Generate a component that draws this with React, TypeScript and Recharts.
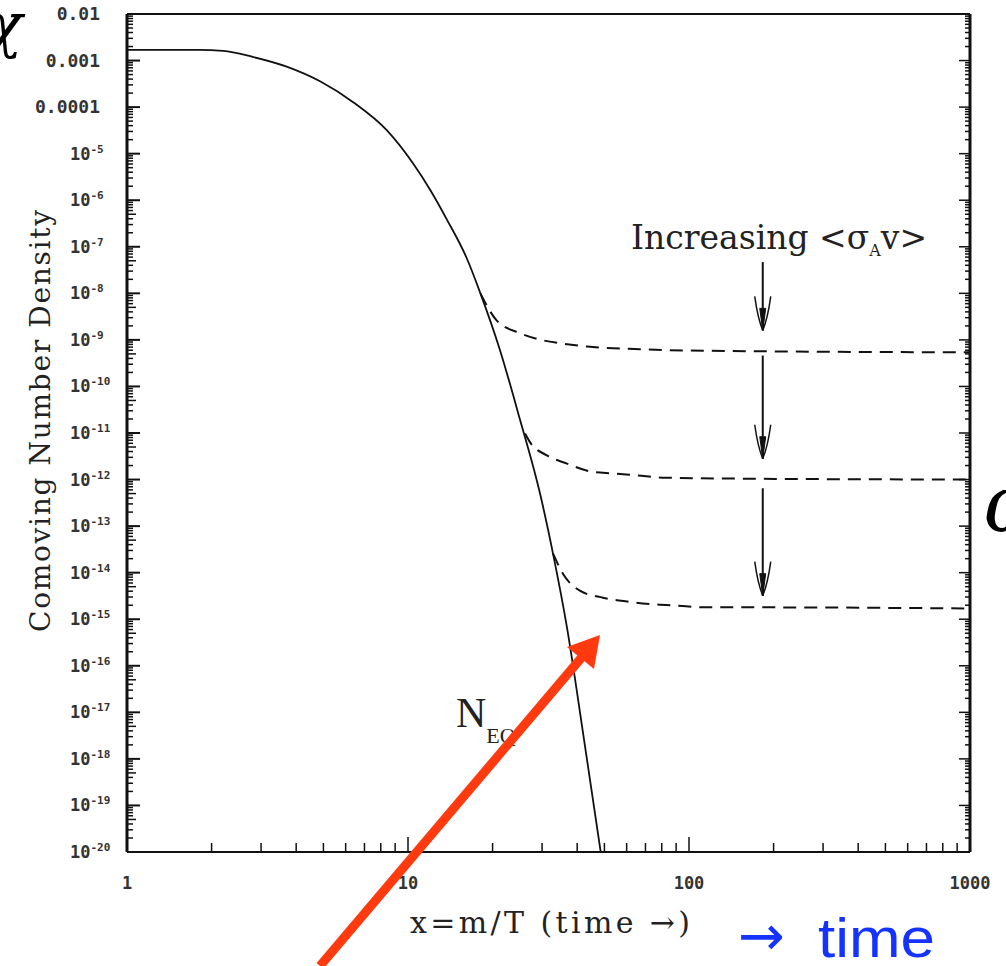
import React from "react";
import { LineChart, Line, XAxis, YAxis, ReferenceLine } from "recharts";

// equilibrium curve N_EQ (x = m/T, comoving number density)
const neqX = [1, 1.8, 2.2, 2.8, 3.7, 4.9, 6.4, 8.4, 10.4, 12, 13.8, 16.2, 18.1, 21.2, 25, 29.5, 32.8, 36.8, 42, 48.5];
const neqY = [1.7e-3, 1.7e-3, 1.62e-3, 1.2e-3, 7.4e-4, 3.5e-4, 1.26e-4, 3.2e-5, 6.3e-6, 1.66e-6, 3.7e-7, 5.6e-8, 1e-8, 6.3e-10, 2e-11, 5e-13, 2.6e-14, 6.6e-16, 3.5e-18, 1e-20];

// freeze-out curves, smallest <sigma v> first
const relic1X = [18.1, 20.7, 25, 30.2, 35.6, 43.4, 66.9, 100.8, 1000];
const relic1Y = [1e-8, 2.6e-9, 1.4e-9, 9.8e-10, 8.3e-10, 7.2e-10, 6.3e-10, 5.9e-10, 5.4e-10];

const relic2X = [26.1, 27.2, 31.2, 36.8, 44.4, 53.7, 65.3, 80.8, 143, 1000];
const relic2Y = [9.8e-12, 6.3e-12, 3.3e-12, 2.2e-12, 1.5e-12, 1.35e-12, 1.23e-12, 1.1e-12, 1.05e-12, 1e-12];

const relic3X = [32.8, 35.6, 40.9, 49.4, 60.2, 74.5, 90.6, 116, 165, 1000];
const relic3Y = [2.6e-14, 9.5e-15, 4.1e-15, 2.9e-15, 2.4e-15, 2.1e-15, 1.95e-15, 1.8e-15, 1.8e-15, 1.7e-15];

// arrows marking increasing cross-section
const arrowX = 183;
const arrowTop = [4.7e-8, 4.6e-10, 6.5e-13];
const arrowTip = [1.6e-9, 2.8e-12, 3.2e-15];

const xMajor = [1, 10, 100, 1000];
const xLabels = ["1", "10", "100", "1000"];
const yMajor = [1e-2, 1e-3, 1e-4, 1e-5, 1e-6, 1e-7, 1e-8, 1e-9, 1e-10, 1e-11, 1e-12, 1e-13, 1e-14, 1e-15, 1e-16, 1e-17, 1e-18, 1e-19, 1e-20];
const yLabels = ["0.01", "0.001", "0.0001", "-5", "-6", "-7", "-8", "-9", "-10", "-11", "-12", "-13", "-14", "-15", "-16", "-17", "-18", "-19", "-20"];

const zip = (xs: number[], ys: number[]) => xs.map((x, i) => ({ x, y: ys[i] }));

// minor ticks at 2..9 x 10^e
function minorTicks(eFrom: number, eTo: number): number[] {
  const out: number[] = [];
  for (let e = eFrom; e <= eTo; e++) {
    for (let k = 2; k <= 9; k++) out.push(Number(`${k}e${e}`));
  }
  return out;
}
const xTicks = [...xMajor, ...minorTicks(0, 2)];
const yTicks = [...yMajor, ...minorTicks(-20, -3)];

const INK = "#111";
const TICK_FONT = "DejaVu Sans Mono";

function LeftTick({ x, y, payload }: any) {
  const idx = yMajor.indexOf(payload.value);
  const major = idx >= 0;
  const mid = !major && String(payload.value).startsWith("5");
  const len = major ? 13 : mid ? 9 : 6;
  return (
    <g>
      <line x1={x} x2={x + len} y1={y} y2={y} stroke={INK} strokeWidth={major ? 2 : 1.5} />
      {major &&
        (idx < 3 ? (
          <text x={x - 27} y={y + 6} textAnchor="end" fontSize={18} fontWeight="bold" fontFamily={TICK_FONT} fill="#333">
            {yLabels[idx]}
          </text>
        ) : (
          <text x={x - 57} y={y + 6} fontSize={17} fontWeight="bold" fontFamily={TICK_FONT} fill="#333">
            10
            <tspan fontSize={11} dy={-7}>
              {yLabels[idx]}
            </tspan>
          </text>
        ))}
    </g>
  );
}

function RightTick({ x, y, payload }: any) {
  const major = yMajor.includes(payload.value);
  const len = major ? 11 : 5;
  return <line x1={x} x2={x - len} y1={y} y2={y} stroke={INK} strokeWidth={1.5} />;
}

function BottomTick({ x, y, payload }: any) {
  const idx = xMajor.indexOf(payload.value);
  const major = idx >= 0;
  const len = major ? 15 : 9;
  return (
    <g>
      <line x1={x} x2={x} y1={y} y2={y - len} stroke={INK} strokeWidth={1.5} />
      {major && (
        <text x={x} y={y + 37} textAnchor="middle" fontSize={17} fontWeight="bold" fontFamily={TICK_FONT} fill="#333">
          {xLabels[idx]}
        </text>
      )}
    </g>
  );
}

function TopTick({ x, y, payload }: any) {
  const major = xMajor.includes(payload.value);
  const len = major ? 14 : 10;
  return <line x1={x} x2={x} y1={y} y2={y + len} stroke={INK} strokeWidth={1.5} />;
}

function DownArrow(props: any) {
  const { x1, y1, x2, y2 } = props;
  return (
    <g stroke={INK} fill="none">
      <line x1={x1} y1={y1} x2={x2} y2={y2} strokeWidth={2} />
      <path d={`M${x2 - 8},${y2 - 34} Q${x2 - 5},${y2 - 12} ${x2},${y2}`} strokeWidth={1.5} />
      <path d={`M${x2 + 8},${y2 - 34} Q${x2 + 5},${y2 - 12} ${x2},${y2}`} strokeWidth={1.5} />
      <path d={`M${x2 - 3},${y2 - 22} L${x2},${y2} L${x2 + 3},${y2 - 22} Z`} fill={INK} strokeWidth={1} />
    </g>
  );
}

export default function App() {
  const serif = "DejaVu Serif";
  return (
    <div style={{ position: "absolute", left: 0, top: 0, width: 1006, height: 966, background: "#fff", overflow: "hidden" }}>
      <LineChart width={1006} height={966} margin={{ top: 10, right: 26, bottom: 74, left: 27 }}>
        <XAxis
          dataKey="x"
          type="number"
          scale="log"
          domain={[1, 1000]}
          allowDataOverflow
          ticks={xTicks}
          interval={0}
          height={40}
          tickSize={0}
          tickMargin={0}
          tickLine={false}
          axisLine={{ stroke: INK, strokeWidth: 2 }}
          tick={(p: any) => <BottomTick {...p} />}
        />
        <XAxis
          xAxisId="top"
          orientation="top"
          type="number"
          scale="log"
          domain={[1, 1000]}
          allowDataOverflow
          ticks={xTicks}
          interval={0}
          height={4}
          tickSize={0}
          tickMargin={0}
          tickLine={false}
          axisLine={{ stroke: INK, strokeWidth: 2 }}
          tick={(p: any) => <TopTick {...p} />}
        />
        <YAxis
          type="number"
          scale="log"
          domain={[1e-20, 1e-2]}
          allowDataOverflow
          ticks={yTicks}
          interval={0}
          width={100}
          tickSize={0}
          tickMargin={0}
          tickLine={false}
          axisLine={{ stroke: INK, strokeWidth: 3 }}
          tick={(p: any) => <LeftTick {...p} />}
        />
        <YAxis
          yAxisId="right"
          orientation="right"
          type="number"
          scale="log"
          domain={[1e-20, 1e-2]}
          allowDataOverflow
          ticks={yTicks}
          interval={0}
          width={10}
          tickSize={0}
          tickMargin={0}
          tickLine={false}
          axisLine={{ stroke: INK, strokeWidth: 3 }}
          tick={(p: any) => <RightTick {...p} />}
        />
        <Line data={zip(neqX, neqY)} dataKey="y" type="monotone" stroke={INK} strokeWidth={1.8} dot={false} isAnimationActive={false} />
        <Line data={zip(relic1X, relic1Y)} dataKey="y" type="monotone" stroke={INK} strokeWidth={2} strokeDasharray="13 8" dot={false} isAnimationActive={false} />
        <Line data={zip(relic2X, relic2Y)} dataKey="y" type="monotone" stroke={INK} strokeWidth={2} strokeDasharray="13 8" dot={false} isAnimationActive={false} />
        <Line data={zip(relic3X, relic3Y)} dataKey="y" type="monotone" stroke={INK} strokeWidth={2} strokeDasharray="13 8" dot={false} isAnimationActive={false} />
        {arrowTop.map((top, i) => (
          <ReferenceLine
            key={i}
            segment={[
              { x: arrowX, y: top },
              { x: arrowX, y: arrowTip[i] },
            ]}
            shape={(p: any) => <DownArrow {...p} />}
          />
        ))}
      </LineChart>
      <svg width={1006} height={966} style={{ position: "absolute", left: 0, top: 0, pointerEvents: "none" }}>
        <text x={-14} y={46} fontSize={60} fontStyle="italic" fontFamily={serif} fill="#000">χ</text>
        <text x={984} y={532} fontSize={80} fontStyle="italic" fontFamily={serif} fill="#000">ω</text>
        <text
          transform="translate(50,421) rotate(-90)"
          textAnchor="middle"
          fontSize={28}
          fontFamily={serif}
          fill="#222"
          textLength={422}
          lengthAdjust="spacing"
        >
          Comoving Number Density
        </text>
        <text x={410} y={933} fontSize={30} fontFamily={serif} fill="#222" textLength={280} lengthAdjust="spacing">
          x=m/T (time →)
        </text>
        <text x={631} y={249} fontSize={33} fontFamily={serif} fill="#222">
          Increasing &lt;σ
          <tspan fontSize={16} dy={7}>A</tspan>
          <tspan dy={-7}>v&gt;</tspan>
        </text>
        <text x={456} y={727} fontSize={42} fontFamily="Liberation Serif" fill="#222">
          N
          <tspan fontSize={22} dy={16}>EQ</tspan>
        </text>
        <text x={738} y={955} fontSize={56} fontFamily="DejaVu Sans" fill="#1533ff">→</text>
        <text x={818} y={957} fontSize={56} fontFamily="Liberation Sans" fill="#1533ff" textLength={117} lengthAdjust="spacingAndGlyphs">
          time
        </text>
        <line x1={320} y1={966} x2={582} y2={657} stroke="#ff3a0f" strokeWidth={9} />
        <polygon points="600,635 567,647 594,669" fill="#ff3a0f" />
      </svg>
    </div>
  );
}
